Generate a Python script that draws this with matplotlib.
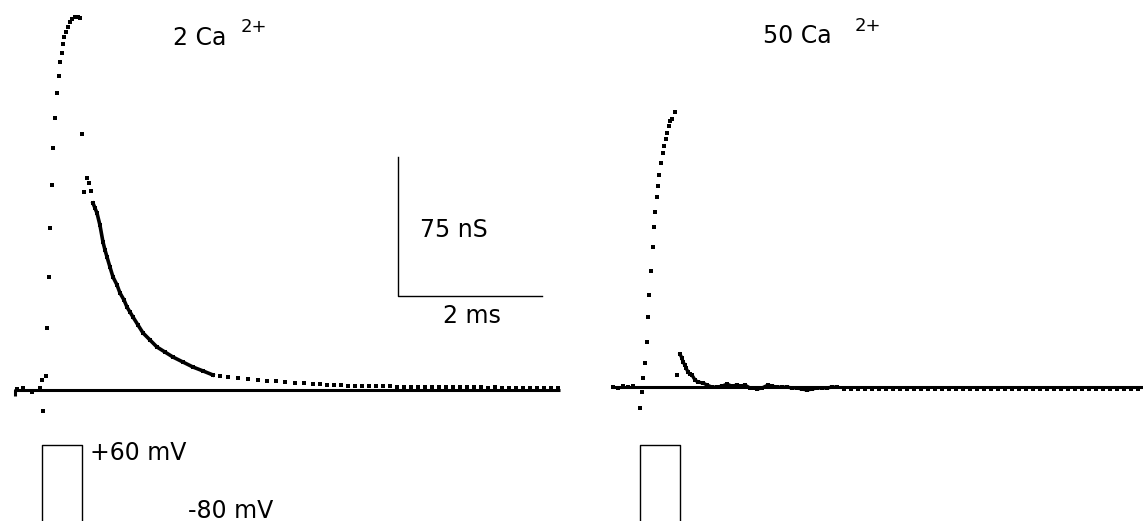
import matplotlib
matplotlib.use("Agg")
import matplotlib.pyplot as plt

# --- 2 mM Ca2+ : conductance trace (time in ms from pulse onset, g in nS)
t_2ca_on = [-0.33, -0.25, -0.13, -0.01, 0.014, 0.028, 0.069, 0.083, 0.111, 0.125,
            0.153, 0.167, 0.194, 0.222, 0.25, 0.264, 0.292, 0.306, 0.319, 0.347,
            0.375, 0.403, 0.431, 0.472, 0.514, 0.542]
g_2ca_on = [0.5, 1.1, -1.1, 1.1, 5.4, -11.3, 7.6, 33.5, 61.0, 87.4,
            110.6, 130.6, 146.8, 160.3, 169.5, 177.0, 181.9, 186.7, 190.5, 193.2,
            195.9, 198.6, 200.2, 201.3, 201.3, 200.8]

t_2ca_tail = [0.569, 0.597, 0.639, 0.667, 0.694, 0.722, 0.75, 0.778, 0.819, 0.861,
              0.889, 0.917, 0.958, 1.0, 1.056, 1.097, 1.153, 1.194, 1.236, 1.278,
              1.347, 1.417, 1.514, 1.611, 1.722, 1.833, 1.972, 2.111, 2.25, 2.389]
g_2ca_tail = [138.2, 106.9, 114.4, 111.7, 107.4, 100.9, 98.2, 95.5, 89.0, 79.9,
              75.6, 71.8, 66.4, 61.0, 56.7, 52.4, 48.6, 44.8, 42.1, 39.4,
              35.1, 30.8, 27.0, 23.2, 20.5, 17.8, 15.1, 12.4, 10.3, 8.1]

t_2ca_late = [2.486, 2.597, 2.736, 2.875, 3.014, 3.139, 3.264, 3.389, 3.528, 3.653,
              3.778, 3.875, 3.97, 4.07, 4.17, 4.26, 4.36, 4.46, 4.56, 4.65,
              4.75, 4.85, 4.94, 5.04, 5.14, 5.24, 5.33, 5.43, 5.53, 5.63,
              5.72, 5.82, 5.92, 6.01, 6.11, 6.21, 6.31, 6.40, 6.50, 6.60,
              6.69, 6.79, 6.89, 6.99, 7.08, 7.18]
g_2ca_late = [7.3, 7.0, 6.7, 5.9, 5.4, 4.9, 4.6, 4.3, 4.0, 3.8,
              3.5, 3.2, 2.9, 2.7, 2.6, 2.4, 2.3, 2.2, 2.1, 2.0,
              1.9, 1.9, 1.8, 1.8, 1.7, 1.7, 1.6, 1.6, 1.6, 1.5,
              1.5, 1.4, 1.5, 1.4, 1.4, 1.3, 1.4, 1.3, 1.3, 1.2,
              1.3, 1.2, 1.2, 1.2, 1.1, 1.2]

# --- 50 mM Ca2+
t_50ca_on = [-0.375, -0.306, -0.236, -0.167, -0.097, 0.0, 0.028, 0.042, 0.069, 0.097,
             0.111, 0.125, 0.153, 0.181, 0.194, 0.208, 0.236, 0.25, 0.264, 0.292,
             0.319, 0.333, 0.361, 0.375, 0.403, 0.417, 0.444, 0.486]
g_50ca_on = [0.0, -0.5, 0.5, 0.0, 0.5, -11.3, -2.7, 4.9, 13.0, 24.3,
             37.8, 49.6, 62.6, 75.5, 86.3, 94.4, 102.5, 108.5, 114.4, 120.9,
             126.3, 130.1, 133.8, 137.1, 140.8, 143.5, 144.6, 148.4]

t_50ca_tail = [0.514, 0.556, 0.583, 0.597, 0.625, 0.639, 0.667, 0.694, 0.722, 0.764,
               0.806, 0.875, 0.931, 1.0, 1.069, 1.139, 1.208, 1.278, 1.347, 1.403,
               1.458, 1.528, 1.583, 1.625, 1.694, 1.778, 1.833, 1.903, 1.972, 2.042,
               2.111, 2.181, 2.25, 2.319, 2.389, 2.458, 2.528, 2.597, 2.667, 2.736]
g_50ca_tail = [6.5, 17.8, 15.6, 13.5, 11.9, 10.3, 8.1, 7.0, 6.5, 3.8,
               2.7, 2.2, 1.1, 0.0, 0.0, 0.5, 1.6, 0.5, 1.1, 0.5,
               1.1, -0.5, -0.5, -1.1, -0.5, 1.1, 0.5, 0.0, 0.0, 0.0,
               -0.5, -0.5, -1.1, -1.6, -1.1, -0.5, -0.5, -0.5, 0.0, 0.0]

t_50ca_late = [2.83, 2.93, 3.03, 3.13, 3.22, 3.32, 3.42, 3.51, 3.61, 3.71,
               3.81, 3.90, 4.00, 4.10, 4.19, 4.29, 4.39, 4.49, 4.58, 4.68,
               4.78, 4.88, 4.97, 5.07, 5.17, 5.26, 5.36, 5.46, 5.56, 5.65,
               5.75, 5.85, 5.94, 6.04, 6.14, 6.24, 6.33, 6.43, 6.53, 6.63,
               6.72, 6.82, 6.92]
g_50ca_late = [-0.8, -0.9, -0.8, -1.0, -0.9, -0.8, -1.0, -0.9, -1.0, -0.8,
               -0.9, -1.0, -0.9, -0.8, -1.0, -0.9, -0.9, -1.0, -0.8, -0.9,
               -1.0, -0.9, -0.8, -1.0, -0.9, -1.0, -0.9, -0.8, -1.0, -0.9,
               -0.9, -1.0, -0.8, -0.9, -1.0, -0.9, -0.9, -1.0, -0.9, -0.8,
               -1.0, -0.9, -0.9]

# voltage protocol (ms, mV)
pulse_t_2ca = [-0.6, 0.014, 0.014, 0.57, 0.57, 7.5]
pulse_t_50ca = [-1.0, 0.0, 0.0, 0.556, 0.556, 7.5]
pulse_v = [-80, -80, 60, 60, -80, -80]

W, H = 1143, 521
fig = plt.figure(figsize=(W / 100, H / 100), dpi=100)


def fx(px):
    return px / W


def fy(py):
    return 1 - py / H


ax_l = fig.add_axes([0, 0, 571 / W, 1])
ax_r = fig.add_axes([571 / W, 0, 572 / W, 1])
ax_l.set_xlim(-0.569, 7.361)
ax_l.set_ylim(-70.7, 210.5)
ax_r.set_xlim(-0.958, 6.986)
ax_r.set_ylim(-72.3, 208.9)

mk = dict(ls='none', marker='s', ms=3.2, color='black', mew=0)

# left panel
ax_l.plot([-0.361, -0.361, 7.208], [-3, 0, 0], color='black', lw=2.2, solid_capstyle='butt')
ax_l.plot(t_2ca_on, g_2ca_on, **mk)
ax_l.plot(t_2ca_tail[5:], g_2ca_tail[5:], color='black', lw=2.6)
ax_l.plot(t_2ca_tail, g_2ca_tail, **mk)
ax_l.plot(t_2ca_late, g_2ca_late, **mk)

# scale bar
sb_t, sb_g = 4.958, 50.7
ax_l.plot([sb_t, sb_t, sb_t + 2], [sb_g + 75, sb_g, sb_g], color='black', lw=1.0)

# right panel
ax_r.plot([-0.389, 6.99], [0, 0], color='black', lw=2.2, solid_capstyle='butt')
ax_r.plot(t_50ca_on, g_50ca_on, **mk)
ax_r.plot(t_50ca_tail[1:], g_50ca_tail[1:], color='black', lw=2.4)
ax_r.plot(t_50ca_tail, g_50ca_tail, **mk)
ax_r.plot(t_50ca_late, g_50ca_late, **mk)

# voltage traces
for ax, pt in ((ax_l, pulse_t_2ca), (ax_r, pulse_t_50ca)):
    axv = ax.twinx()
    axv.set_ylim(-76.4, 852.8)
    axv.plot(pt, pulse_v, color='black', lw=1.0)
    axv.axis('off')
    ax.axis('off')

fs = 17
fig.text(fx(173), fy(45), "2 Ca", fontsize=fs, va='baseline')
fig.text(fx(241), fy(32), "2+", fontsize=13, va='baseline')
fig.text(fx(763), fy(43), "50 Ca", fontsize=fs, va='baseline')
fig.text(fx(855), fy(31), "2+", fontsize=13, va='baseline')
fig.text(fx(420), fy(237), "75 nS", fontsize=fs, va='baseline')
fig.text(fx(443), fy(323), "2 ms", fontsize=fs, va='baseline')
fig.text(fx(90), fy(460), "+60 mV", fontsize=fs, va='baseline')
fig.text(fx(188), fy(518), "-80 mV", fontsize=fs, va='baseline')

fig.savefig("out.png", dpi=100, facecolor='white')
